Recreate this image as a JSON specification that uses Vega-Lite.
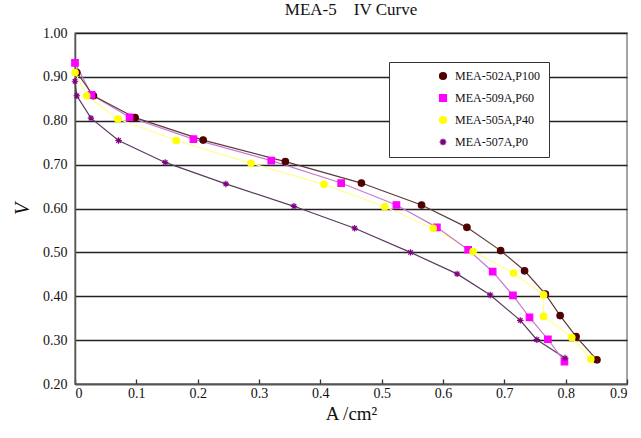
{
  "$schema": "https://vega.github.io/schema/vega-lite/v6.json",
  "width": 552,
  "height": 351,
  "autosize": "none",
  "padding": {"left": 75, "top": 33, "right": 14, "bottom": 54},
  "background": "white",
  "title": {"text": "MEA-5\u00a0\u00a0\u00a0\u00a0IV Curve", "font": "Liberation Serif", "fontSize": 17, "fontWeight": "normal", "color": "#111", "offset": 7},
  "config": {
    "view": {"stroke": "#888", "strokeWidth": 1.5},
    "axis": {"labelFont": "Liberation Serif", "titleFont": "Liberation Serif", "labelColor": "#111", "titleColor": "#111", "labelFontSize": 14, "titleFontWeight": "normal"},
    "legend": {"labelFont": "Liberation Serif", "labelFontSize": 12, "labelColor": "#111"}
  },
  "data": {"values": [
    {"s": "MEA-502A,P100", "i": 0, "x": 0.003, "y": 0.910},
    {"s": "MEA-502A,P100", "i": 1, "x": 0.030, "y": 0.857},
    {"s": "MEA-502A,P100", "i": 2, "x": 0.098, "y": 0.807},
    {"s": "MEA-502A,P100", "i": 3, "x": 0.209, "y": 0.756},
    {"s": "MEA-502A,P100", "i": 4, "x": 0.343, "y": 0.707},
    {"s": "MEA-502A,P100", "i": 5, "x": 0.467, "y": 0.658},
    {"s": "MEA-502A,P100", "i": 6, "x": 0.565, "y": 0.608},
    {"s": "MEA-502A,P100", "i": 7, "x": 0.639, "y": 0.557},
    {"s": "MEA-502A,P100", "i": 8, "x": 0.694, "y": 0.504},
    {"s": "MEA-502A,P100", "i": 9, "x": 0.733, "y": 0.458},
    {"s": "MEA-502A,P100", "i": 10, "x": 0.767, "y": 0.405},
    {"s": "MEA-502A,P100", "i": 11, "x": 0.791, "y": 0.356},
    {"s": "MEA-502A,P100", "i": 12, "x": 0.817, "y": 0.308},
    {"s": "MEA-502A,P100", "i": 13, "x": 0.851, "y": 0.255},
    {"s": "MEA-509A,P60", "i": 0, "x": 0.000, "y": 0.932},
    {"s": "MEA-509A,P60", "i": 1, "x": 0.027, "y": 0.859},
    {"s": "MEA-509A,P60", "i": 2, "x": 0.089, "y": 0.808},
    {"s": "MEA-509A,P60", "i": 3, "x": 0.193, "y": 0.758},
    {"s": "MEA-509A,P60", "i": 4, "x": 0.320, "y": 0.709},
    {"s": "MEA-509A,P60", "i": 5, "x": 0.434, "y": 0.658},
    {"s": "MEA-509A,P60", "i": 6, "x": 0.524, "y": 0.608},
    {"s": "MEA-509A,P60", "i": 7, "x": 0.590, "y": 0.557},
    {"s": "MEA-509A,P60", "i": 8, "x": 0.641, "y": 0.506},
    {"s": "MEA-509A,P60", "i": 9, "x": 0.681, "y": 0.456},
    {"s": "MEA-509A,P60", "i": 10, "x": 0.714, "y": 0.402},
    {"s": "MEA-509A,P60", "i": 11, "x": 0.741, "y": 0.352},
    {"s": "MEA-509A,P60", "i": 12, "x": 0.771, "y": 0.302},
    {"s": "MEA-509A,P60", "i": 13, "x": 0.798, "y": 0.251},
    {"s": "MEA-505A,P40", "i": 0, "x": 0.000, "y": 0.910},
    {"s": "MEA-505A,P40", "i": 1, "x": 0.019, "y": 0.857},
    {"s": "MEA-505A,P40", "i": 2, "x": 0.070, "y": 0.804},
    {"s": "MEA-505A,P40", "i": 3, "x": 0.165, "y": 0.755},
    {"s": "MEA-505A,P40", "i": 4, "x": 0.287, "y": 0.703},
    {"s": "MEA-505A,P40", "i": 5, "x": 0.406, "y": 0.655},
    {"s": "MEA-505A,P40", "i": 6, "x": 0.505, "y": 0.604},
    {"s": "MEA-505A,P40", "i": 7, "x": 0.584, "y": 0.555},
    {"s": "MEA-505A,P40", "i": 8, "x": 0.649, "y": 0.502},
    {"s": "MEA-505A,P40", "i": 9, "x": 0.715, "y": 0.453},
    {"s": "MEA-505A,P40", "i": 10, "x": 0.764, "y": 0.403},
    {"s": "MEA-505A,P40", "i": 11, "x": 0.764, "y": 0.354},
    {"s": "MEA-505A,P40", "i": 12, "x": 0.810, "y": 0.306},
    {"s": "MEA-505A,P40", "i": 13, "x": 0.841, "y": 0.257},
    {"s": "MEA-507A,P0", "i": 0, "x": 0.000, "y": 0.890},
    {"s": "MEA-507A,P0", "i": 1, "x": 0.003, "y": 0.857},
    {"s": "MEA-507A,P0", "i": 2, "x": 0.026, "y": 0.806},
    {"s": "MEA-507A,P0", "i": 3, "x": 0.071, "y": 0.755},
    {"s": "MEA-507A,P0", "i": 4, "x": 0.147, "y": 0.705},
    {"s": "MEA-507A,P0", "i": 5, "x": 0.246, "y": 0.656},
    {"s": "MEA-507A,P0", "i": 6, "x": 0.357, "y": 0.605},
    {"s": "MEA-507A,P0", "i": 7, "x": 0.456, "y": 0.555},
    {"s": "MEA-507A,P0", "i": 8, "x": 0.547, "y": 0.500},
    {"s": "MEA-507A,P0", "i": 9, "x": 0.623, "y": 0.451},
    {"s": "MEA-507A,P0", "i": 10, "x": 0.677, "y": 0.403},
    {"s": "MEA-507A,P0", "i": 11, "x": 0.726, "y": 0.345},
    {"s": "MEA-507A,P0", "i": 12, "x": 0.753, "y": 0.301},
    {"s": "MEA-507A,P0", "i": 13, "x": 0.799, "y": 0.259}
  ]},
  "encoding": {
    "x": {"field": "x", "type": "quantitative", "scale": {"domain": [0, 0.9], "nice": false},
      "axis": {"title": "A /cm²", "titleFontSize": 19, "titlePadding": 4, "values": [0, 0.1, 0.2, 0.3, 0.4, 0.5, 0.6, 0.7, 0.8, 0.9],
        "labelExpr": "datum.value == 0 ? '0' : format(datum.value, '.1f')", "grid": false, "tickSize": -5, "tickColor": "#333", "tickWidth": 1.3, "domainColor": "#555", "domainWidth": 1.5, "labelPadding": 7}},
    "y": {"field": "y", "type": "quantitative", "scale": {"domain": [0.2, 1.0], "nice": false, "zero": false},
      "axis": {"title": "V", "titleFontSize": 20, "titleFontStyle": "italic", "titleAngle": -90, "titlePadding": 10, "values": [0.2, 0.3, 0.4, 0.5, 0.6, 0.7, 0.8, 0.9, 1.0],
        "format": ".2f", "grid": true, "gridColor": "#222", "gridWidth": 1.3, "ticks": false, "domainColor": "#555", "domainWidth": 1.5, "labelPadding": 8}}
  },
  "layer": [
    {
      "transform": [{"filter": "datum.s == 'MEA-507A,P0'"}],
      "mark": {"type": "line", "strokeWidth": 1.2, "color": "#5a3a60"},
      "encoding": {"order": {"field": "i", "type": "quantitative"}}
    },
    {
      "transform": [{"filter": "datum.s == 'MEA-505A,P40'"}],
      "mark": {"type": "line", "strokeWidth": 1.2, "color": "#ffff90"},
      "encoding": {"order": {"field": "i", "type": "quantitative"}}
    },
    {
      "transform": [{"filter": "datum.s == 'MEA-509A,P60'"}],
      "mark": {"type": "line", "strokeWidth": 1.2, "color": "#c878d0"},
      "encoding": {"order": {"field": "i", "type": "quantitative"}}
    },
    {
      "transform": [{"filter": "datum.s == 'MEA-502A,P100'"}],
      "mark": {"type": "line", "strokeWidth": 1.2, "color": "#5e3a3a"},
      "encoding": {"order": {"field": "i", "type": "quantitative"}}
    },
    {
      "mark": {"type": "point", "filled": true, "size": 42, "strokeWidth": 1.2, "opacity": 1},
      "encoding": {
        "fill": {"field": "s", "type": "nominal",
          "scale": {"domain": ["MEA-502A,P100", "MEA-509A,P60", "MEA-505A,P40", "MEA-507A,P0"], "range": ["#500000", "#ff00ff", "#ffff00", "#800080"]},
          "legend": {"title": null, "orient": "none", "legendX": 314, "legendY": 29, "strokeColor": "#333", "fillColor": "white", "padding": 8, "symbolOffset": 40, "symbolSize": 45, "rowPadding": 8, "labelOffset": 6}},
        "stroke": {"field": "s", "type": "nominal",
          "scale": {"domain": ["MEA-502A,P100", "MEA-509A,P60", "MEA-505A,P40", "MEA-507A,P0"], "range": ["#500000", "#ff00ff", "#ffff00", "#800080"]}},
        "shape": {"field": "s", "type": "nominal",
          "scale": {"domain": ["MEA-502A,P100", "MEA-509A,P60", "MEA-505A,P40", "MEA-507A,P0"], "range": ["circle", "square", "circle", "M-1,0L1,0M0,-1L0,1M-0.7,-0.7L0.7,0.7M-0.7,0.7L0.7,-0.7"]}}
      }
    }
  ]
}
